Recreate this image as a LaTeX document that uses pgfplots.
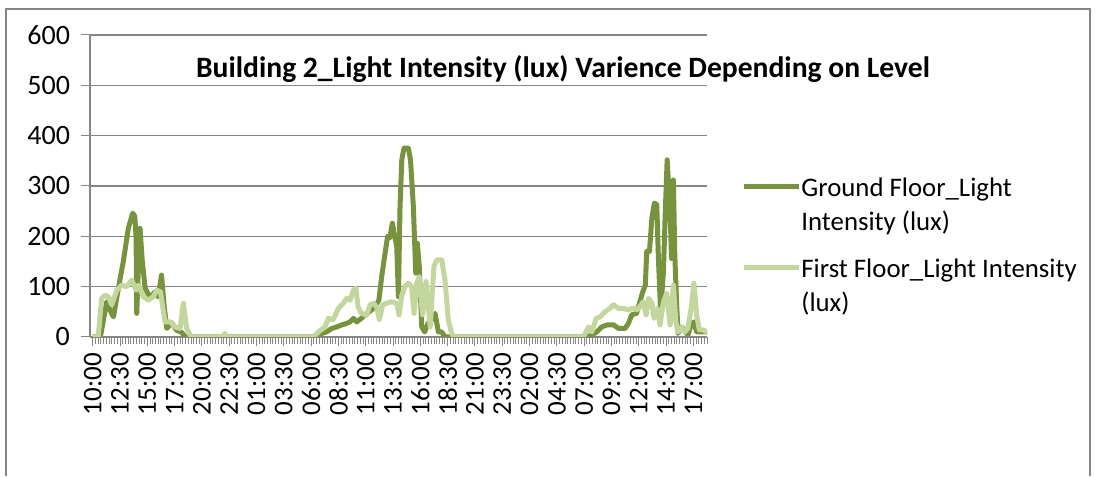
\documentclass[border=0pt]{standalone}
\usepackage{pgfplots}
\pgfplotsset{compat=1.18}
\usepackage{fontspec}
\setmainfont{Carlito}
\definecolor{gfloor}{HTML}{77933C}
\definecolor{ffloor}{HTML}{C3D69B}
\definecolor{gridgray}{HTML}{868686}
\begin{document}
\begin{tikzpicture}
\useasboundingbox (0,0) rectangle (547.5pt,238pt);
\draw[gridgray, line width=0.7pt] (3pt,0) -- (3pt,233.5pt) -- (545pt,233.5pt) -- (545pt,0);
\begin{axis}[
  at={(45pt,69.5pt)}, anchor=south west,
  scale only axis, width=308.5pt, height=151pt,
  xmin=-0.25, xmax=56.25, ymin=0, ymax=600,
  axis x line=bottom, axis y line=left,
  axis line style={gridgray, line width=0.8pt, -},
  ytick={0,100,...,600},
  ymajorgrids, grid style={gridgray, line width=0.8pt},
  xtick={0,2.5,...,55},
  xticklabels={10:00,12:30,15:00,17:30,20:00,22:30,01:00,03:30,06:00,08:30,11:00,13:30,16:00,18:30,21:00,23:30,02:00,04:30,07:00,09:30,12:00,14:30,17:00},
  minor xtick={0,0.25,...,56.25},
  tick align=outside,
  major tick length=4.5pt, minor tick length=3.5pt,
  tick style={gridgray, line width=0.5pt},
  xticklabel style={rotate=90, anchor=east, font=\fontsize{13.5}{16}\selectfont},
  yticklabel style={font=\fontsize{14}{17}\selectfont, xshift=-2pt},
  /pgf/number format/assume math mode=true,
  title={Building 2\_Light Intensity (lux) Varience Depending on Level},
  title style={at={(0.7666,0.8477)}, anchor=center, font=\bfseries\fontsize{14.8}{18}\selectfont},
  legend style={at={(1.0551,0.5464)}, anchor=north west, draw=none, fill=none, inner sep=0pt,
    row sep=0pt, font=\fontsize{13.4}{16}\selectfont,
    nodes={inner sep=0pt, text height=12pt, text depth=5pt},
    /tikz/every even column/.append style={column sep=1pt}},
  legend cell align=left,
  legend image code/.code={\draw[#1] (0pt,1.2pt) -- (27.5pt,1.2pt);},
  every axis plot/.append style={line width=2.5pt, line join=round},
]
\addplot[gfloor] coordinates {
(0,0) (0.7,0) (1.28,70) (1.55,55) (1.9,40) (2.35,97) (2.8,150) (3.26,216) (3.66,246) (3.85,240)
(3.97,200) (4.03,47) (4.15,120) (4.33,216) (4.54,150) (4.8,97) (5.25,78) (5.7,90) (5.95,80) (6.1,95)
(6.3,123) (6.53,64) (6.78,17) (7.23,28) (7.7,13) (8.1,10) (8.5,0) (20.5,0) (20.97,7) (21.4,10)
(21.9,17) (22.35,20) (22.8,24) (23.26,27) (23.56,30) (23.87,37) (24.17,30) (24.6,37) (25.1,47) (25.55,54)
(25.86,60) (26.2,73) (26.46,120) (26.77,166) (27.0,200) (27.2,197) (27.44,226) (27.65,200) (27.84,180) (27.99,80)
(28.14,259) (28.3,352) (28.5,375) (28.9,375) (29.1,352) (29.36,259) (29.58,127) (29.73,186) (29.9,140) (30.13,20)
(30.4,10) (30.7,27) (31.04,34) (31.35,47) (31.65,10) (31.96,10) (32.26,0) (45.2,0) (45.7,4) (46.15,10)
(46.6,20) (47.1,24) (47.7,24) (48.15,17) (48.75,17) (49.05,27) (49.36,44) (49.8,47) (50.1,70) (50.37,90)
(50.6,103) (50.73,170) (50.98,170) (51.2,236) (51.43,266) (51.65,263) (51.8,156) (52.0,50) (52.26,130) (52.43,249)
(52.6,352) (52.87,249) (53.0,156) (53.17,312) (53.3,163) (53.47,64) (53.6,7) (53.9,20) (54.2,14) (54.5,4)
(54.8,24) (55.05,30) (55.3,10) (56.25,10)
};
\addlegendentry{Ground Floor\_Light}
\addlegendimage{empty legend}
\addlegendentry[text depth=11.5pt]{Intensity (lux)}
\addplot[ffloor] coordinates {
(0,0) (0.5,0) (0.82,77) (1.13,83) (1.43,80) (1.74,64) (2.2,93) (2.65,103) (3.1,100) (3.57,113)
(3.97,93) (4.18,103) (4.64,80) (5.1,73) (5.55,80) (5.86,93) (6.2,90) (6.62,30) (7.1,30) (7.54,20)
(8.0,17) (8.3,67) (8.6,17) (9.0,0) (11.9,0) (12.1,7) (12.3,0) (20.2,0) (20.66,10) (21.27,20)
(21.58,37) (22.0,34) (22.5,57) (22.95,67) (23.26,77) (23.56,73) (23.87,93) (24.1,97) (24.3,60) (24.6,47)
(25.07,43) (25.4,64) (25.7,67) (26.0,60) (26.25,34) (26.55,64) (26.9,67) (27.35,70) (27.84,67) (28.05,44)
(28.3,83) (28.6,100) (28.9,107) (29.2,100) (29.42,47) (29.67,107) (29.9,120) (30.2,44) (30.52,110) (30.9,20)
(31.1,90) (31.25,140) (31.5,153) (31.96,153) (32.26,113) (32.56,34) (32.87,7) (33.1,0) (44.93,0) (45.4,20)
(45.7,10) (46.1,37) (46.45,40) (46.9,50) (47.37,57) (47.68,64) (48.1,57) (48.6,57) (49.0,54) (49.5,57)
(49.9,54) (50.4,70) (50.67,44) (50.9,77) (51.2,67) (51.4,37) (51.7,57) (51.95,24) (52.26,70) (52.56,87)
(52.87,24) (53.17,103) (53.4,30) (53.6,10) (53.9,20) (54.2,10) (54.5,17) (54.84,64) (55.05,107) (55.3,44)
(55.55,14) (55.9,14) (56.25,10)
};
\addlegendentry{First Floor\_Light Intensity}
\addlegendimage{empty legend}
\addlegendentry{(lux)}
\end{axis}
\end{tikzpicture}
\end{document}
